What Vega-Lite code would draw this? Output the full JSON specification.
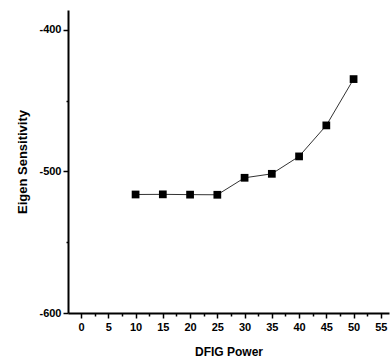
{
  "$schema": "https://vega.github.io/schema/vega-lite/v6.json",
  "width": 321,
  "height": 303,
  "autosize": {"type": "none"},
  "padding": {"left": 68, "top": 10, "right": 1, "bottom": 50},
  "background": "white",
  "config": {
    "view": {"stroke": null},
    "axis": {
      "grid": false,
      "domainColor": "black",
      "domainWidth": 2,
      "tickColor": "black",
      "tickWidth": 1.5,
      "labelFont": "Liberation Sans",
      "labelFontWeight": "bold",
      "labelFontSize": 11,
      "labelColor": "black",
      "titleFont": "Liberation Sans",
      "titleFontWeight": "bold",
      "titleFontSize": 12,
      "titleColor": "black"
    }
  },
  "data": {
    "values": [
      {"power": 10, "sens": -516.3},
      {"power": 15, "sens": -516.2},
      {"power": 20, "sens": -516.4},
      {"power": 25, "sens": -516.5},
      {"power": 30, "sens": -504.5},
      {"power": 35, "sens": -501.7},
      {"power": 40, "sens": -489.4},
      {"power": 45, "sens": -467.5},
      {"power": 50, "sens": -434.8}
    ]
  },
  "encoding": {
    "x": {
      "field": "power",
      "type": "quantitative",
      "scale": {"domain": [-2.4, 56.5], "nice": false, "zero": false},
      "axis": {
        "title": "DFIG Power",
        "values": [0, 2.5, 5, 7.5, 10, 12.5, 15, 17.5, 20, 22.5, 25, 27.5, 30, 32.5, 35, 37.5, 40, 42.5, 45, 47.5, 50, 52.5, 55],
        "labelExpr": "datum.value % 5 === 0 ? datum.label : ''",
        "tickSize": {"condition": {"test": "datum.value % 5 === 0", "value": 5}, "value": 3},
        "labelPadding": 3,
        "titlePadding": 14
      }
    },
    "y": {
      "field": "sens",
      "type": "quantitative",
      "scale": {"domain": [-600, -386], "nice": false, "zero": false},
      "axis": {
        "title": "Eigen Sensitivity",
        "titleFontSize": 13,
        "values": [-600, -550, -500, -450, -400],
        "labelExpr": "datum.value % 100 === 0 ? replace(datum.label, '\u2212', '-') : ''",
        "tickSize": {"condition": {"test": "datum.value % 100 === 0", "value": 5}, "value": 2},
        "labelPadding": 2,
        "titlePadding": 9
      }
    }
  },
  "layer": [
    {"mark": {"type": "line", "color": "#333333", "strokeWidth": 1}},
    {"mark": {"type": "point", "shape": "square", "filled": true, "color": "black", "opacity": 1, "size": 60}}
  ]
}
